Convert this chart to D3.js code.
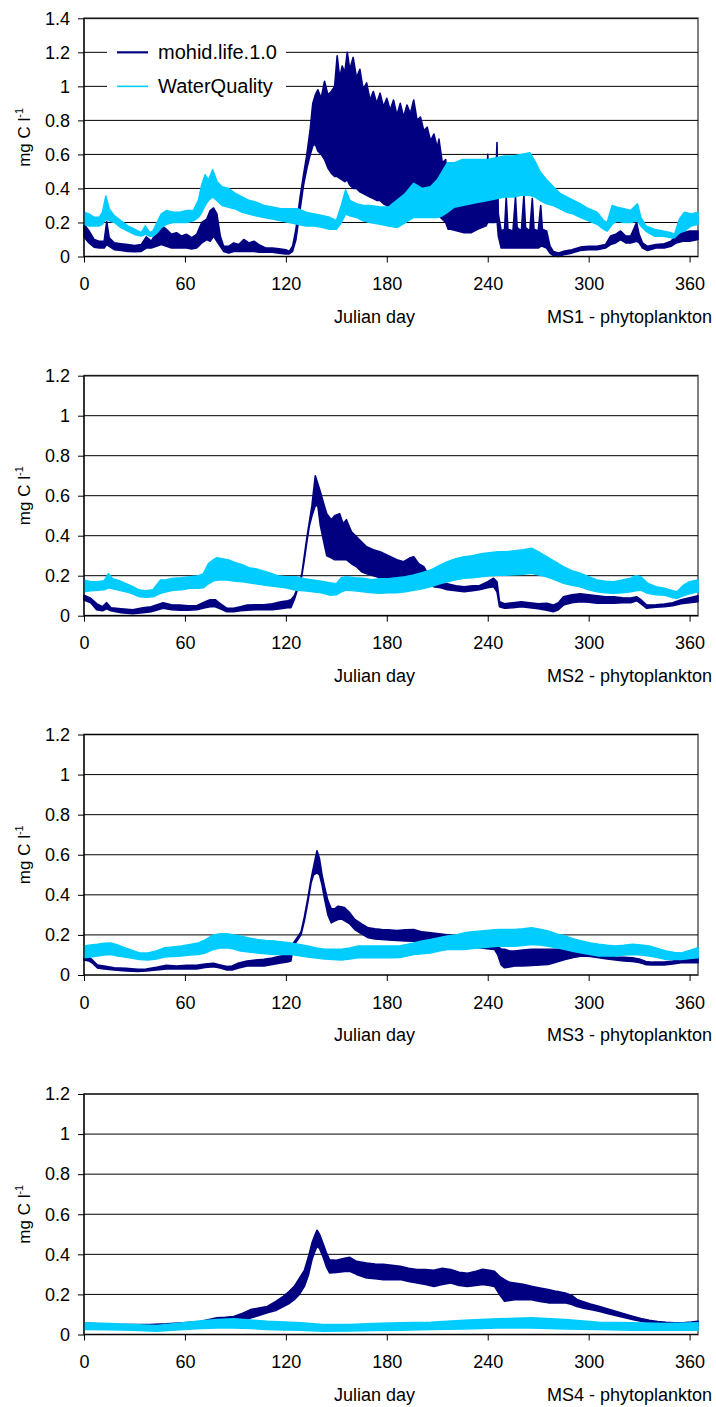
<!DOCTYPE html>
<html>
<head>
<meta charset="utf-8">
<script src="https://cdn.jsdelivr.net/npm/d3@7"></script>
<style>
  html, body { margin: 0; padding: 0; background: #fff; }
  svg { display: block; font-family: "Liberation Sans", Arial, sans-serif; }
</style>
</head>
<body>
<svg id="chart" width="716" height="1407"></svg>
<script>
// Phytoplankton carbon at four monitoring stations over one year.
// Each series is stored as [julian day, lower envelope, upper envelope] (mg C l-1);
// the fast tidal oscillation of the model output shows up as a band.

const stations = ["MS1", "MS2", "MS3", "MS4"];
const seriesNames = ["mohid.life.1.0", "WaterQuality"];
const seriesColors = ["#000080", "#00CCFF"];
const yMaxes = [1.4, 1.2, 1.2, 1.2];
const xTicks = [0, 60, 120, 180, 240, 300, 360];
const xLabel = "Julian day";
const panelSuffix = " - phytoplankton";

const ms1Mohid = [
  [0,0.115,0.19],[3,0.08,0.15],[6,0.055,0.10],[9,0.05,0.09],[12,0.05,0.09],[13.5,0.07,0.205],
  [15,0.06,0.11],[18,0.04,0.08],[22,0.035,0.075],[26,0.03,0.07],[30,0.028,0.065],[34,0.03,0.07],
  [37,0.05,0.115],[40,0.05,0.09],[43,0.06,0.14],[46,0.07,0.185],[49,0.06,0.16],[52,0.05,0.13],
  [55,0.05,0.14],[58,0.05,0.12],[61,0.05,0.13],[64,0.045,0.11],[67,0.05,0.13],[70,0.08,0.2],
  [73,0.1,0.22],[75,0.09,0.27],[77,0.12,0.285],[79,0.09,0.25],[81,0.06,0.12],[83,0.03,0.06],
  [86,0.02,0.06],[89,0.03,0.08],[92,0.03,0.07],[95,0.03,0.1],[98,0.03,0.08],[101,0.03,0.09],
  [104,0.025,0.07],[108,0.025,0.05],[112,0.025,0.05],[116,0.02,0.045],[120,0.015,0.04],[122,0.015,0.03],
  [124,0.03,0.06],[126,0.1,0.16],[128.5,0.28,0.35],[130.5,0.42,0.48],[132.5,0.52,0.6],[134.5,0.6,0.75],
  [136,0.65,0.9],[137.5,0.66,0.95],[139,0.62,0.98],[141,0.6,0.93],[143,0.57,1.03],[145,0.52,0.95],
  [147,0.49,0.97],[149,0.47,1.0],[150.5,0.47,1.18],[152,0.46,1.05],[153.5,0.45,1.12],[155,0.44,1.08],
  [156.5,0.45,1.2],[158,0.42,1.1],[160,0.4,1.17],[162,0.4,1.05],[164,0.38,1.1],[166,0.37,0.98],
  [168,0.36,1.02],[170,0.35,0.92],[172,0.34,0.97],[174,0.33,0.9],[176,0.33,0.96],[178,0.31,0.88],
  [180,0.3,0.93],[182,0.28,0.86],[184,0.27,0.92],[186,0.27,0.83],[188,0.28,0.9],[190,0.27,0.82],
  [192,0.27,0.89],[194,0.28,0.84],[196,0.29,0.92],[198,0.28,0.8],[200,0.27,0.82],[202,0.27,0.74],
  [204,0.26,0.76],[206,0.25,0.68],[208,0.25,0.72],[210,0.24,0.64],[211,0.24,0.69],[213,0.22,0.55],
  [215,0.2,0.57],[216.5,0.16,0.4],[218,0.16,0.33],[222,0.15,0.32],[226,0.14,0.33],[230,0.14,0.33],
  [234,0.16,0.34],[239,0.18,0.34],[240,0.2,0.6],[241,0.2,0.35],[244.5,0.2,0.36],[245.5,0.22,0.67],
  [246.3,0.12,0.25],[248,0.05,0.15],[250,0.05,0.16],[251,0.05,0.35],[252,0.05,0.16],[255,0.05,0.15],
  [256.5,0.05,0.35],[257.5,0.05,0.17],[260,0.05,0.15],[261.5,0.05,0.36],[262.5,0.05,0.17],[265,0.05,0.15],
  [266.5,0.05,0.34],[267.5,0.05,0.16],[270,0.05,0.15],[271.5,0.06,0.3],[272.5,0.06,0.16],[275,0.05,0.15],
  [277,0.02,0.06],[279,0.005,0.03],[282,0.0,0.02],[285,0.01,0.03],[290,0.02,0.04],[295,0.035,0.055],
  [300,0.04,0.06],[305,0.04,0.06],[310,0.05,0.07],[313,0.07,0.12],[316,0.08,0.13],[319,0.1,0.15],
  [322,0.08,0.12],[325,0.08,0.12],[328.5,0.09,0.2],[330,0.08,0.13],[332,0.05,0.08],[335,0.035,0.06],
  [340,0.05,0.07],[345,0.05,0.075],[349,0.06,0.09],[352,0.08,0.12],[356,0.09,0.14],[360,0.09,0.15],
  [365,0.1,0.15]
];

const ms1Wq = [
  [0,0.19,0.26],[3,0.18,0.25],[6,0.18,0.23],[9,0.18,0.23],[11,0.19,0.26],[13,0.22,0.355],
  [15,0.21,0.28],[18,0.2,0.24],[22,0.17,0.21],[26,0.15,0.18],[30,0.13,0.16],[34,0.12,0.14],
  [36.5,0.13,0.18],[39,0.12,0.14],[41,0.12,0.15],[43.5,0.14,0.2],[46,0.17,0.25],[49,0.19,0.27],
  [53,0.2,0.26],[57,0.2,0.26],[61,0.2,0.27],[65,0.21,0.27],[68,0.23,0.33],[70,0.26,0.42],
  [72,0.3,0.48],[74,0.33,0.45],[76.5,0.35,0.51],[79,0.33,0.44],[82,0.3,0.41],[86,0.29,0.4],
  [90,0.28,0.37],[94,0.26,0.35],[98,0.25,0.33],[102,0.24,0.32],[107,0.23,0.3],[112,0.22,0.29],
  [117,0.21,0.28],[122,0.2,0.28],[127,0.19,0.28],[132,0.18,0.26],[137,0.18,0.25],[142,0.17,0.24],
  [146,0.16,0.23],[150,0.16,0.21],[153,0.2,0.3],[155.5,0.25,0.39],[158,0.24,0.33],[162,0.23,0.31],
  [166,0.21,0.3],[170,0.2,0.3],[176,0.19,0.29],[181,0.18,0.29],[186,0.17,0.33],[191,0.2,0.37],
  [196,0.23,0.43],[201,0.23,0.4],[206,0.23,0.41],[210,0.23,0.45],[213,0.24,0.5],[216,0.26,0.55],
  [220,0.29,0.55],[225,0.3,0.57],[230,0.31,0.57],[235,0.32,0.57],[240,0.33,0.57],[245,0.34,0.58],
  [250,0.35,0.59],[255,0.35,0.59],[260,0.36,0.6],[265,0.36,0.61],[268,0.35,0.56],[271,0.33,0.5],
  [275,0.31,0.45],[279,0.3,0.41],[283,0.28,0.37],[287,0.26,0.35],[291,0.25,0.33],[295,0.23,0.31],
  [300,0.21,0.28],[305,0.19,0.26],[309,0.16,0.21],[311,0.15,0.2],[314,0.19,0.3],[317,0.21,0.29],
  [321,0.2,0.28],[325,0.2,0.27],[329,0.21,0.31],[331,0.18,0.23],[334,0.15,0.18],[339,0.12,0.16],
  [344,0.12,0.15],[349,0.11,0.14],[351,0.11,0.13],[354,0.14,0.22],[357,0.15,0.26],[361,0.18,0.25],
  [365,0.19,0.26]
];

const ms2Mohid = [
  [0,0.078,0.103],[4,0.065,0.087],[7.5,0.03,0.06],[11,0.025,0.045],[13.5,0.035,0.065],[16,0.025,0.04],
  [22,0.015,0.035],[29,0.01,0.03],[35,0.015,0.04],[40,0.02,0.045],[47,0.037,0.065],[52,0.03,0.055],
  [57,0.028,0.053],[62,0.028,0.05],[67,0.03,0.05],[72,0.04,0.07],[75,0.045,0.08],[78,0.045,0.08],
  [81,0.035,0.06],[85,0.02,0.037],[89,0.02,0.037],[93,0.025,0.045],[97,0.028,0.053],[102,0.03,0.055],
  [107,0.03,0.055],[112,0.03,0.06],[117,0.035,0.07],[121,0.04,0.075],[123,0.04,0.08],[125,0.08,0.1],
  [126.5,0.12,0.13],[128,0.16,0.17],[129.5,0.2,0.21],[131,0.28,0.3],[132.5,0.37,0.39],[134,0.45,0.47],
  [135.5,0.5,0.55],[137.5,0.55,0.70],[139,0.55,0.66],[140.5,0.45,0.62],[142.5,0.37,0.56],[144.3,0.3,0.51],
  [147,0.29,0.48],[149,0.28,0.5],[152,0.28,0.51],[154,0.28,0.46],[156,0.28,0.48],[159,0.26,0.42],
  [162,0.245,0.395],[165,0.22,0.37],[168,0.21,0.345],[172,0.2,0.33],[176,0.19,0.32],[181,0.18,0.3],
  [186,0.17,0.28],[190,0.17,0.27],[194,0.18,0.29],[196,0.195,0.295],[199,0.19,0.26],[202,0.18,0.245],
  [205,0.16,0.2],[208,0.145,0.18],[212,0.14,0.165],[216,0.13,0.16],[221,0.125,0.15],[226,0.12,0.145],
  [231,0.125,0.15],[235,0.13,0.15],[240,0.14,0.17],[243.5,0.145,0.187],[245.5,0.12,0.17],[247,0.045,0.07],
  [250,0.037,0.06],[255,0.04,0.065],[260,0.045,0.07],[265,0.04,0.065],[270,0.035,0.06],[275,0.028,0.062],
  [279,0.02,0.053],[282,0.03,0.065],[285,0.053,0.095],[290,0.065,0.105],[295,0.07,0.11],[300,0.068,0.105],
  [305,0.062,0.1],[310,0.062,0.095],[315,0.062,0.095],[320,0.065,0.09],[325,0.065,0.088],[328.5,0.075,0.095],
  [331,0.06,0.08],[334.5,0.037,0.053],[340,0.042,0.055],[345,0.045,0.058],[350,0.05,0.065],[355,0.06,0.08],
  [360,0.065,0.09],[365,0.07,0.1]
];

const ms2Wq = [
  [0,0.12,0.178],[4,0.125,0.17],[8,0.128,0.17],[12,0.13,0.175],[14.5,0.14,0.21],[17,0.135,0.185],
  [21,0.128,0.175],[25,0.12,0.16],[29,0.11,0.145],[33,0.095,0.128],[37,0.092,0.125],[41,0.095,0.13],
  [45.5,0.112,0.178],[49,0.12,0.18],[53,0.128,0.187],[58,0.13,0.19],[63,0.137,0.195],[68,0.137,0.2],
  [71,0.14,0.21],[74,0.16,0.26],[77,0.175,0.28],[79,0.178,0.29],[82,0.18,0.285],[86,0.178,0.278],
  [90,0.172,0.265],[94,0.17,0.255],[98,0.165,0.24],[102,0.16,0.235],[106,0.155,0.225],[110,0.15,0.215],
  [115,0.145,0.2],[120,0.14,0.195],[126,0.128,0.195],[131,0.125,0.185],[136,0.12,0.178],[141,0.115,0.172],
  [146,0.103,0.165],[150,0.105,0.16],[153,0.12,0.19],[156,0.128,0.195],[161,0.125,0.19],[166,0.12,0.187],
  [171,0.115,0.18],[176,0.112,0.185],[181,0.115,0.185],[186,0.115,0.19],[191,0.12,0.195],[196,0.128,0.203],
  [201,0.135,0.215],[206,0.145,0.228],[211,0.158,0.25],[216,0.17,0.27],[221,0.18,0.285],[226,0.187,0.295],
  [231,0.19,0.3],[236,0.195,0.31],[241,0.2,0.315],[246,0.203,0.32],[251,0.203,0.32],[256,0.205,0.325],
  [261,0.208,0.33],[266,0.212,0.337],[270,0.205,0.32],[275,0.195,0.295],[280,0.18,0.27],[285,0.162,0.245],
  [290,0.152,0.225],[295,0.145,0.212],[300,0.13,0.195],[305,0.12,0.178],[310,0.115,0.172],[315,0.112,0.17],
  [320,0.115,0.178],[325,0.12,0.187],[328,0.125,0.2],[331,0.128,0.195],[335,0.112,0.162],[340,0.105,0.145],
  [345,0.103,0.137],[350,0.09,0.125],[352.5,0.087,0.12],[356,0.1,0.15],[360,0.11,0.17],[365,0.12,0.178]
];

const ms3Mohid = [
  [0,0.075,0.09],[3,0.07,0.088],[5,0.06,0.075],[8,0.035,0.05],[12,0.03,0.045],[18,0.025,0.036],
  [25,0.02,0.033],[32,0.018,0.028],[37,0.02,0.03],[43,0.025,0.038],[49,0.03,0.048],[55,0.03,0.045],
  [61,0.03,0.048],[67,0.03,0.048],[72,0.038,0.055],[77,0.041,0.058],[81,0.035,0.05],[85,0.025,0.042],
  [88,0.025,0.045],[92,0.035,0.06],[97,0.045,0.07],[102,0.045,0.075],[107,0.045,0.078],[112,0.052,0.085],
  [117,0.06,0.095],[121,0.065,0.1],[123,0.07,0.103],[124.5,0.145,0.16],[127,0.175,0.19],[129,0.2,0.215],
  [131,0.27,0.29],[133,0.36,0.38],[135,0.46,0.48],[136.5,0.5,0.54],[138.5,0.51,0.62],[140,0.5,0.58],
  [141.5,0.45,0.5],[143,0.38,0.44],[145,0.3,0.37],[147,0.26,0.33],[149,0.27,0.33],[151,0.277,0.343],
  [153,0.28,0.34],[155,0.27,0.335],[158,0.255,0.31],[161,0.227,0.277],[165,0.205,0.255],[169,0.186,0.235],
  [173,0.18,0.23],[177,0.177,0.227],[181,0.175,0.225],[186,0.172,0.222],[191,0.17,0.225],[196,0.169,0.227],
  [201,0.165,0.215],[206,0.164,0.21],[211,0.162,0.205],[216,0.16,0.2],[221,0.155,0.195],[226,0.15,0.19],
  [231,0.14,0.185],[236,0.135,0.177],[241,0.13,0.16],[244,0.128,0.15],[246,0.1,0.14],[248,0.05,0.13],
  [250,0.036,0.128],[253,0.04,0.12],[256,0.045,0.12],[261,0.045,0.125],[266,0.048,0.128],[271,0.05,0.128],
  [276,0.053,0.128],[281,0.065,0.128],[286,0.078,0.128],[291,0.088,0.125],[296,0.095,0.12],[301,0.092,0.11],
  [306,0.086,0.103],[311,0.08,0.095],[316,0.075,0.09],[321,0.07,0.088],[326,0.067,0.086],[330,0.063,0.08],
  [334,0.052,0.067],[338,0.05,0.064],[345,0.05,0.065],[350,0.055,0.07],[355,0.061,0.078],[360,0.061,0.082],
  [365,0.061,0.086]
];

const ms3Wq = [
  [0,0.086,0.144],[4,0.09,0.15],[8,0.095,0.153],[12,0.1,0.158],[16,0.103,0.16],[20,0.095,0.15],
  [24,0.09,0.136],[28,0.085,0.125],[33,0.078,0.11],[38,0.075,0.11],[43,0.08,0.12],[48,0.09,0.136],
  [53,0.092,0.14],[58,0.095,0.144],[63,0.1,0.152],[68,0.103,0.16],[72,0.11,0.175],[77,0.128,0.2],
  [81,0.135,0.205],[85,0.136,0.205],[89,0.13,0.2],[93,0.12,0.194],[98,0.115,0.185],[103,0.11,0.177],
  [108,0.106,0.172],[113,0.103,0.169],[118,0.103,0.165],[123,0.103,0.16],[128,0.096,0.152],[133,0.09,0.144],
  [138,0.085,0.135],[143,0.08,0.128],[148,0.078,0.128],[153,0.075,0.128],[158,0.08,0.135],[163,0.086,0.144],
  [168,0.086,0.144],[173,0.086,0.144],[178,0.086,0.144],[183,0.086,0.144],[188,0.088,0.146],[192,0.095,0.152],
  [196,0.103,0.16],[201,0.106,0.17],[206,0.11,0.177],[211,0.12,0.186],[216,0.128,0.194],[221,0.128,0.2],
  [226,0.128,0.21],[231,0.132,0.215],[236,0.136,0.219],[241,0.14,0.223],[246,0.144,0.227],[251,0.144,0.227],
  [256,0.144,0.227],[261,0.148,0.23],[266,0.153,0.235],[271,0.15,0.228],[276,0.144,0.219],[281,0.136,0.205],
  [286,0.128,0.194],[291,0.118,0.18],[296,0.11,0.169],[301,0.102,0.16],[306,0.095,0.153],[311,0.095,0.148],
  [316,0.095,0.144],[321,0.1,0.148],[326,0.103,0.153],[331,0.1,0.15],[336,0.095,0.144],[341,0.088,0.132],
  [346,0.078,0.12],[351,0.078,0.112],[355,0.078,0.11],[360,0.082,0.122],[365,0.086,0.136]
];

const ms4Mohid = [
  [0,0.033,0.058],[10,0.033,0.052],[19,0.033,0.05],[29,0.033,0.05],[39,0.033,0.05],[49,0.035,0.053],
  [59,0.038,0.058],[69,0.042,0.065],[79,0.05,0.083],[84,0.055,0.086],[89,0.058,0.09],[94,0.07,0.105],
  [99,0.083,0.124],[104,0.095,0.132],[109,0.108,0.14],[114,0.12,0.165],[118.5,0.14,0.19],[122,0.155,0.215],
  [125,0.174,0.24],[128,0.2,0.28],[131,0.24,0.32],[133.5,0.3,0.39],[135.5,0.373,0.456],[137,0.41,0.49],
  [138.5,0.44,0.52],[140,0.43,0.5],[142,0.39,0.456],[144,0.34,0.41],[146,0.307,0.373],[150,0.31,0.37],
  [155,0.315,0.38],[158,0.315,0.385],[162,0.3,0.365],[168,0.282,0.357],[173,0.278,0.352],[178,0.274,0.35],
  [183,0.274,0.345],[188,0.274,0.34],[193,0.265,0.33],[198,0.257,0.324],[203,0.25,0.324],[208,0.24,0.32],
  [213,0.25,0.33],[218,0.257,0.324],[223,0.245,0.31],[228,0.24,0.305],[233,0.245,0.315],[237,0.25,0.325],
  [241,0.245,0.32],[244,0.24,0.315],[247,0.2,0.29],[250,0.166,0.274],[253,0.17,0.26],[256,0.174,0.257],
  [261,0.175,0.25],[266,0.174,0.24],[271,0.165,0.232],[276,0.158,0.224],[281,0.158,0.215],[286,0.158,0.207],
  [290,0.15,0.195],[293,0.14,0.175],[296,0.133,0.166],[301,0.125,0.152],[306,0.116,0.141],[311,0.105,0.128],
  [316,0.095,0.116],[321,0.085,0.103],[326,0.075,0.091],[331,0.066,0.08],[336,0.058,0.071],[341,0.052,0.065],
  [346,0.048,0.061],[351,0.046,0.059],[356,0.045,0.058],[361,0.043,0.062],[365,0.041,0.066]
];

const ms4Wq = [
  [0,0.025,0.058],[15,0.024,0.055],[29,0.022,0.05],[43,0.017,0.045],[59,0.025,0.058],[70,0.03,0.068],
  [79,0.033,0.075],[89,0.033,0.078],[99,0.03,0.072],[109,0.025,0.066],[119,0.023,0.062],[129,0.022,0.058],
  [142,0.017,0.05],[158,0.018,0.05],[172,0.02,0.055],[188,0.022,0.058],[206,0.025,0.061],[226,0.028,0.071],
  [246,0.033,0.078],[266,0.033,0.083],[286,0.028,0.075],[306,0.025,0.061],[326,0.022,0.058],[345,0.022,0.055],
  [365,0.022,0.058]
];

const panelSeries = [
  [ms1Mohid, ms1Wq],
  [ms2Mohid, ms2Wq],
  [ms3Mohid, ms3Wq],
  [ms4Mohid, ms4Wq]
];

// ---- layout ----
const plotLeft = 84, plotRight = 698;
const plotBottoms = [256.5, 615.7, 975, 1334.5];
const plotTops = [18.3, 375.7, 734.5, 1094];
const fontSize = 18;

const svg = d3.select("#chart");
const x = d3.scaleLinear().domain([0, 365]).range([plotLeft, plotRight]);

panelSeries.forEach((series, i) => {
  const yMax = yMaxes[i];
  const y = d3.scaleLinear().domain([0, yMax]).range([plotBottoms[i], plotTops[i]]);
  const yTicks = d3.range(0, Math.round(yMax / 0.2) + 1).map(k => +(k * 0.2).toFixed(1));
  const g = svg.append("g");

  // plot-area frame (only the right side remains visible)
  g.append("rect")
    .attr("x", plotLeft).attr("y", plotTops[i])
    .attr("width", plotRight - plotLeft).attr("height", plotBottoms[i] - plotTops[i])
    .attr("fill", "none").attr("stroke", "#808080").attr("stroke-width", 2);

  // horizontal gridlines
  g.append("g").selectAll("line")
    .data(yTicks.filter(v => v > 0))
    .join("line")
    .attr("x1", plotLeft).attr("x2", plotRight)
    .attr("y1", d => y(d)).attr("y2", d => y(d))
    .attr("stroke", "#000").attr("stroke-width", 1);

  // series bands: model output oscillates quickly, drawn as min/max envelope
  series.forEach((data, s) => {
    const area = d3.area()
      .x(d => x(d[0]))
      .y0(d => y(d[1]))
      .y1(d => y(d[2]))
      .curve(d3.curveLinear);
    g.append("path")
      .datum(data)
      .attr("d", area)
      .attr("fill", seriesColors[s])
      .attr("stroke", seriesColors[s])
      .attr("stroke-width", 1.6)
      .attr("stroke-linejoin", "round");
  });

  // axes
  const yAxis = d3.axisLeft(y)
    .tickValues(yTicks)
    .tickSize(6)
    .tickPadding(8)
    .tickFormat(d => String(d));
  const ya = g.append("g").attr("transform", `translate(${plotLeft},0)`).call(yAxis);

  const xAxis = d3.axisBottom(x)
    .tickValues(xTicks)
    .tickSize(6)
    .tickPadding(15)
    .tickFormat(d => String(d));
  const xa = g.append("g").attr("transform", `translate(0,${plotBottoms[i]})`).call(xAxis);

  [ya, xa].forEach(a => {
    a.select(".domain").attr("stroke", "#000").attr("stroke-width", 1.2);
    a.selectAll(".tick line").attr("stroke", "#000").attr("stroke-width", 1);
    a.selectAll("text").attr("font-size", fontSize).attr("fill", "#000")
      .attr("font-family", "'Liberation Sans', Arial, sans-serif");
  });
  ya.select(".domain").attr("d", `M0,${plotBottoms[i]}V${plotTops[i]}`);
  xa.select(".domain").attr("d", `M${plotLeft},0H${plotRight}`);

  // y-axis title
  const midY = (plotTops[i] + plotBottoms[i]) / 2;
  const yt = g.append("text")
    .attr("transform", `translate(30,${midY}) rotate(-90)`)
    .attr("text-anchor", "middle")
    .attr("font-size", 17)
    .attr("fill", "#000");
  yt.append("tspan").text("mg C l");
  yt.append("tspan").attr("dy", -7).attr("font-size", 11).text("-1");

  // x-axis title and panel label
  g.append("text")
    .attr("x", 374.5).attr("y", plotBottoms[i] + 66)
    .attr("text-anchor", "middle")
    .attr("font-size", fontSize).attr("fill", "#000")
    .text(xLabel);
  g.append("text")
    .attr("x", 712).attr("y", plotBottoms[i] + 66)
    .attr("text-anchor", "end")
    .attr("font-size", fontSize).attr("fill", "#000")
    .text(stations[i] + panelSuffix);

  // legend on the first panel
  if (i === 0) {
    const lg = g.append("g");
    lg.append("rect")
      .attr("x", 107).attr("y", 34).attr("width", 179).attr("height", 74)
      .attr("fill", "#fff");
    const rowY = [y(1.2), y(1.0)];
    seriesNames.forEach((name, s) => {
      lg.append("line")
        .attr("x1", 117).attr("x2", 148)
        .attr("y1", rowY[s]).attr("y2", rowY[s])
        .attr("stroke", seriesColors[s]).attr("stroke-width", s === 0 ? 2.2 : 1.6);
      lg.append("text")
        .attr("x", 158).attr("y", rowY[s] + 7)
        .attr("font-size", 20).attr("fill", "#000")
        .text(name);
    });
  }
});
</script>
</body>
</html>
